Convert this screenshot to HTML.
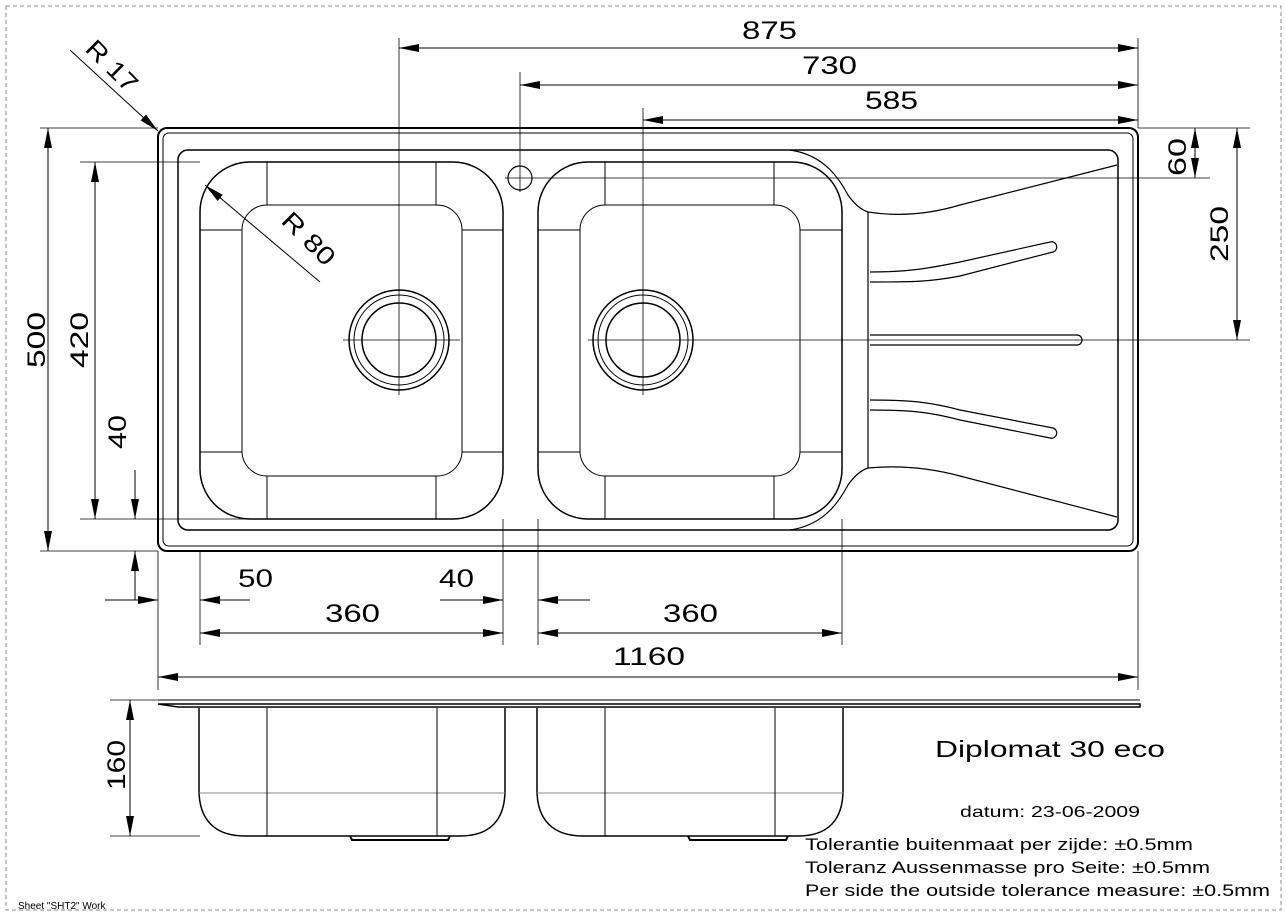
<!DOCTYPE html>
<html><head><meta charset="utf-8"><style>
html,body{margin:0;padding:0;background:#fff}
svg{display:block}
text{font-family:"Liberation Sans",sans-serif;fill:#000}
</style></head><body>
<svg width="1287" height="916" viewBox="0 0 1287 916" xmlns="http://www.w3.org/2000/svg">
<defs>
<marker id="a" viewBox="0 0 20 8" refX="20" refY="4" markerWidth="20" markerHeight="8" markerUnits="userSpaceOnUse" orient="auto-start-reverse"><path d="M0,0 L20,4 L0,8 z" fill="#000"/></marker>
</defs>
<rect x="6" y="6" width="1275" height="904" fill="none" stroke="#888" stroke-dasharray="4,3"/>
<g fill="none" stroke="#000">
<rect x="158" y="128" width="980" height="423" rx="9" stroke-width="2"/>
<rect x="163" y="133" width="970" height="413" rx="6" stroke-width="1"/>
<rect x="178" y="150" width="940" height="380" rx="10" stroke-width="1.5"/>
<rect x="200" y="162" width="303" height="357" rx="50" stroke-width="1.5"/>
<rect x="242" y="205" width="220" height="271" rx="25" stroke-width="1"/>
<g stroke-width="1">
<line x1="267" y1="162" x2="267" y2="205"/><line x1="436" y1="162" x2="436" y2="205"/>
<line x1="267" y1="476" x2="267" y2="519"/><line x1="436" y1="476" x2="436" y2="519"/>
<line x1="200" y1="230" x2="242" y2="230"/><line x1="200" y1="452" x2="242" y2="452"/>
<line x1="462" y1="230" x2="503" y2="230"/><line x1="462" y1="452" x2="503" y2="452"/>
</g>
<rect x="538" y="162" width="304" height="357" rx="50" stroke-width="1.5"/>
<rect x="580" y="205" width="220" height="271" rx="25" stroke-width="1"/>
<g stroke-width="1">
<line x1="605" y1="162" x2="605" y2="205"/><line x1="774" y1="162" x2="774" y2="205"/>
<line x1="605" y1="476" x2="605" y2="519"/><line x1="774" y1="476" x2="774" y2="519"/>
<line x1="538" y1="230" x2="580" y2="230"/><line x1="538" y1="452" x2="580" y2="452"/>
<line x1="800" y1="230" x2="842" y2="230"/><line x1="800" y1="452" x2="842" y2="452"/>
</g>
<circle cx="399" cy="340" r="50" stroke-width="1.5"/><circle cx="399" cy="340" r="45"/><circle cx="399" cy="340" r="37" stroke-width="1.5"/>
<circle cx="643" cy="340" r="50" stroke-width="1.5"/><circle cx="643" cy="340" r="45"/><circle cx="643" cy="340" r="37" stroke-width="1.5"/>
<circle cx="520" cy="178" r="12" stroke-width="1.2"/>
<path d="M790,150 C825,155 840,180 848,195 C855,205 862,210 868,212 C900,217 930,214 960,205 L1117,165" stroke-width="1.2"/>
<path d="M790,530 C825,525 840,500 848,485 C855,475 862,470 868,468 C900,465 930,468 960,476 L1117,517" stroke-width="1.2"/>
<line x1="868" y1="212" x2="868" y2="468" stroke-width="1.2"/>
<path d="M870,272 C910,272 930,268 960,262 L1050,242 A5,5 0 0 1 1053,252 L960,276 C930,282 910,282 870,282" stroke-width="1.2"/>
<path d="M870,335 L1077,335 A5,5 0 0 1 1077,345 L870,345" stroke-width="1.2"/>
<path d="M870,400 C910,400 930,402 960,410 L1053,428 A5,5 0 0 1 1050,438 L960,420 C930,412 910,410 870,410" stroke-width="1.2"/>
<g stroke-width="0.8">
<line x1="399" y1="38" x2="399" y2="395"/><line x1="343" y1="340" x2="460" y2="340"/>
<line x1="643" y1="108" x2="643" y2="395"/><line x1="588" y1="340" x2="1250" y2="340"/>
<line x1="520" y1="72" x2="520" y2="192"/><line x1="505" y1="178" x2="1210" y2="178"/>
<line x1="1138" y1="38" x2="1138" y2="128"/>
<line x1="1138" y1="128" x2="1250" y2="128"/>
<line x1="80" y1="162" x2="200" y2="162"/>
<line x1="80" y1="519" x2="250" y2="519"/>
<line x1="40" y1="551" x2="158" y2="551"/>
<line x1="40" y1="128" x2="158" y2="128"/>
<line x1="158" y1="551" x2="158" y2="690"/><line x1="200" y1="551" x2="200" y2="645"/>
<line x1="503" y1="519" x2="503" y2="645"/><line x1="538" y1="519" x2="538" y2="645"/>
<line x1="842" y1="519" x2="842" y2="645"/><line x1="1138" y1="551" x2="1138" y2="690"/>
</g>
<g stroke-width="1">
<line x1="399" y1="48" x2="1138" y2="48" marker-start="url(#a)" marker-end="url(#a)"/>
<line x1="520" y1="85" x2="1138" y2="85" marker-start="url(#a)" marker-end="url(#a)"/>
<line x1="643" y1="120" x2="1138" y2="120" marker-start="url(#a)" marker-end="url(#a)"/>
<line x1="1195" y1="128" x2="1195" y2="178" marker-start="url(#a)" marker-end="url(#a)"/>
<line x1="1237" y1="128" x2="1237" y2="340" marker-start="url(#a)" marker-end="url(#a)"/>
<line x1="48" y1="128" x2="48" y2="551" marker-start="url(#a)" marker-end="url(#a)"/>
<line x1="95" y1="162" x2="95" y2="519" marker-start="url(#a)" marker-end="url(#a)"/>
<line x1="135" y1="470" x2="135" y2="519" marker-end="url(#a)"/>
<line x1="135" y1="600" x2="135" y2="551" marker-end="url(#a)"/>
<line x1="105" y1="600" x2="158" y2="600" marker-end="url(#a)"/>
<line x1="250" y1="600" x2="200" y2="600" marker-end="url(#a)"/>
<line x1="440" y1="600" x2="503" y2="600" marker-end="url(#a)"/>
<line x1="590" y1="600" x2="538" y2="600" marker-end="url(#a)"/>
<line x1="200" y1="633" x2="503" y2="633" marker-start="url(#a)" marker-end="url(#a)"/>
<line x1="538" y1="633" x2="842" y2="633" marker-start="url(#a)" marker-end="url(#a)"/>
<line x1="158" y1="677" x2="1138" y2="677" marker-start="url(#a)" marker-end="url(#a)"/>
<line x1="130" y1="700" x2="130" y2="836" marker-start="url(#a)" marker-end="url(#a)"/>
<line x1="70" y1="50" x2="158" y2="131" marker-end="url(#a)"/>
<line x1="320" y1="282" x2="205" y2="185" marker-end="url(#a)"/>
</g>
<line x1="158" y1="700" x2="1140" y2="700" stroke-width="1"/>
<path d="M158,704 L1140,704 L1140,707 L178,707 Z" stroke-width="1.5"/>
<g stroke-width="0.8"><line x1="110" y1="700" x2="158" y2="700"/><line x1="110" y1="836" x2="200" y2="836"/></g>
<path d="M199,708 L199,790 C199,820 215,836 245,836 L460,836 C490,836 505,820 505,790 L505,708" stroke-width="1.5"/>
<path d="M537,708 L537,790 C537,820 553,836 583,836 L798,836 C828,836 843,820 843,790 L843,708" stroke-width="1.5"/>
<g stroke="#888" stroke-width="1"><line x1="199" y1="793" x2="505" y2="793"/><line x1="537" y1="793" x2="843" y2="793"/></g>
<g stroke-width="1"><line x1="267" y1="708" x2="267" y2="836"/><line x1="437" y1="708" x2="437" y2="836"/>
<line x1="605" y1="708" x2="605" y2="836"/><line x1="775" y1="708" x2="775" y2="836"/></g>
<path d="M350,836 L352,840 L448,840 L450,836" stroke-width="2"/>
<path d="M688,836 L690,840 L786,840 L788,836" stroke-width="2"/>
</g>
<g font-size="25">
<text x="742" y="39" textLength="55" lengthAdjust="spacingAndGlyphs">875</text>
<text x="802" y="74" textLength="55" lengthAdjust="spacingAndGlyphs">730</text>
<text x="865" y="109" textLength="53" lengthAdjust="spacingAndGlyphs">585</text>
<text x="1186" y="176" transform="rotate(-90 1186 176)" textLength="38" lengthAdjust="spacingAndGlyphs">60</text>
<text x="1228" y="262" transform="rotate(-90 1228 262)" textLength="56" lengthAdjust="spacingAndGlyphs">250</text>
<text x="45" y="368" transform="rotate(-90 45 368)" textLength="56" lengthAdjust="spacingAndGlyphs">500</text>
<text x="88" y="368" transform="rotate(-90 88 368)" textLength="56" lengthAdjust="spacingAndGlyphs">420</text>
<text x="126" y="449" transform="rotate(-90 126 449)" textLength="34" lengthAdjust="spacingAndGlyphs">40</text>
<text x="238" y="587" textLength="35" lengthAdjust="spacingAndGlyphs">50</text>
<text x="439" y="587" textLength="35" lengthAdjust="spacingAndGlyphs">40</text>
<text x="325" y="622" textLength="55" lengthAdjust="spacingAndGlyphs">360</text>
<text x="663" y="622" textLength="55" lengthAdjust="spacingAndGlyphs">360</text>
<text x="613" y="665" textLength="72" lengthAdjust="spacingAndGlyphs">1160</text>
<text x="125" y="790" transform="rotate(-90 125 790)" textLength="50" lengthAdjust="spacingAndGlyphs">160</text>
<text x="84" y="50" transform="rotate(45 84 50)" textLength="62" lengthAdjust="spacingAndGlyphs">R 17</text>
<text x="280" y="222" transform="rotate(45 280 222)" textLength="64" lengthAdjust="spacingAndGlyphs">R 80</text>
<text x="935" y="757" font-size="23" textLength="230" lengthAdjust="spacingAndGlyphs">Diplomat 30 eco</text>
</g>
<text x="960" y="817" font-size="16" textLength="180" lengthAdjust="spacingAndGlyphs">datum: 23-06-2009</text>
<g font-size="17">
<text x="805" y="850" textLength="388" lengthAdjust="spacingAndGlyphs">Tolerantie buitenmaat per zijde: ±0.5mm</text>
<text x="805" y="873" textLength="405" lengthAdjust="spacingAndGlyphs">Toleranz Aussenmasse pro Seite: ±0.5mm</text>
<text x="805" y="896" textLength="465" lengthAdjust="spacingAndGlyphs">Per side the outside tolerance measure: ±0.5mm</text>
</g>
<text x="18" y="909" font-size="10" fill="#444">Sheet "SHT2" Work</text>
</svg>
</body></html>
